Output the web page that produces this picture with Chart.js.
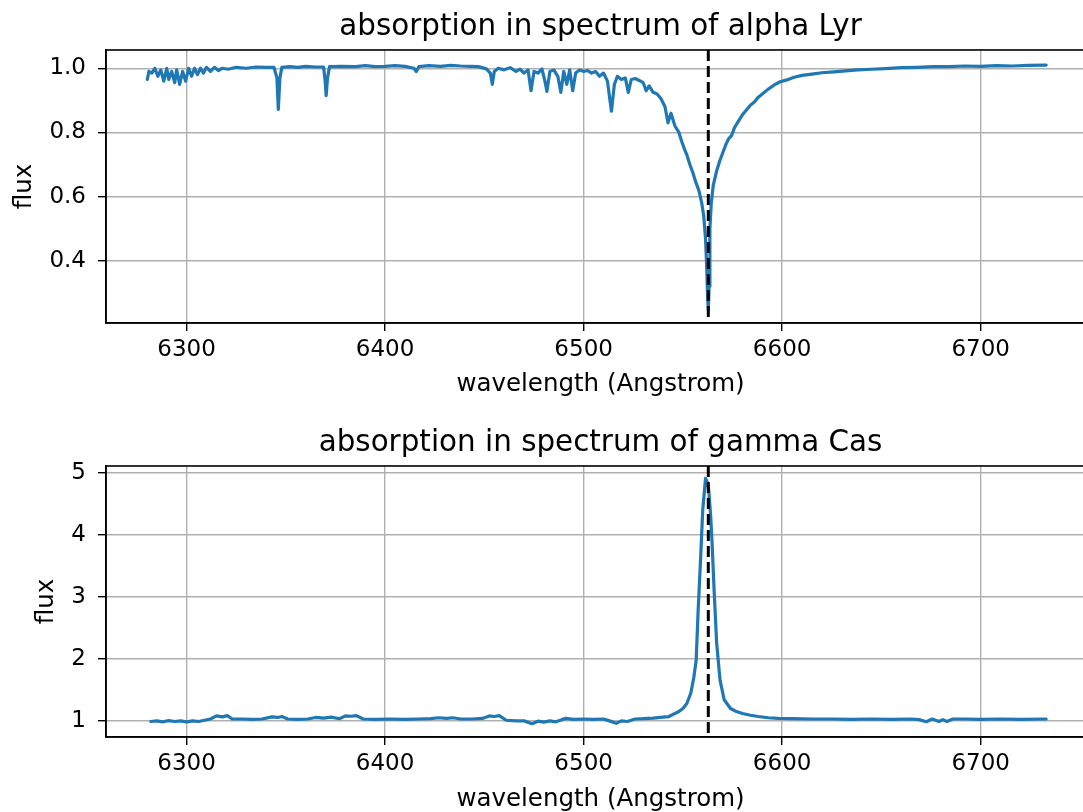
<!DOCTYPE html>
<html>
<head>
<meta charset="utf-8">
<title>H-alpha absorption / emission</title>
<script src="https://cdn.jsdelivr.net/npm/chart.js@4.4.1/dist/chart.umd.min.js"></script>
<style>
  html, body { margin: 0; padding: 0; overflow: hidden; background: #fff; }
  #wrap { position: relative; width: 1083px; height: 812px; overflow: hidden; }
  canvas { position: absolute; left: 0; }
  #lyr { top: 0; }
  #cas { top: 406px; }
</style>
</head>
<body>
<div id="wrap">
  <canvas id="lyr" width="1095" height="406"></canvas>
  <canvas id="cas" width="1095" height="420"></canvas>
</div>
<script>
// tick labels
const xTicks = [6300, 6400, 6500, 6600, 6700];
const lyrTicks = [0.4, 0.6, 0.8, 1.0];
const casTicks = [1, 2, 3, 4, 5];

// rest wavelength of H-alpha (dashed line)
const hAlpha = 6562.8;

// alpha Lyr spectrum
const lyrWave = [
  6280.2, 6281, 6282.5, 6284, 6285.5, 6287, 6288.5, 6290, 6291, 6292.5,
  6294, 6295, 6296.5, 6298, 6299.5, 6301, 6302.5, 6304, 6305.5, 6307,
  6308.5, 6310, 6312, 6314, 6316, 6318, 6321, 6325, 6330, 6335,
  6340, 6344, 6345.5, 6346.2, 6347, 6348, 6352, 6356, 6360, 6365,
  6369, 6369.8, 6370.3, 6371, 6372, 6378, 6385, 6390, 6395, 6400,
  6405, 6410, 6414.5, 6415.7, 6417, 6422, 6428, 6433, 6438, 6443,
  6447, 6451, 6453, 6454, 6455, 6457, 6460, 6463, 6466, 6468,
  6470, 6472, 6473.5, 6475, 6477, 6479, 6480.5, 6481.5, 6483, 6485,
  6487, 6488.5, 6490, 6491.5, 6493, 6494.5, 6496, 6498, 6500, 6502,
  6504, 6506, 6508, 6510, 6512, 6514, 6515.5, 6517, 6519, 6521,
  6522.5, 6524, 6526, 6528, 6530, 6531.5, 6533, 6535, 6537, 6539,
  6541, 6542.5, 6544, 6546, 6548, 6549.5, 6551, 6552, 6553.5, 6555,
  6556.5, 6558, 6559.5, 6560.5, 6561.4, 6562, 6562.5, 6562.8, 6563.2, 6563.6,
  6564.3, 6565.3, 6567, 6568.5, 6570, 6571.5, 6573, 6574.5, 6576, 6578,
  6580, 6582, 6584, 6586, 6588, 6590, 6593, 6596, 6599, 6602,
  6606, 6610, 6615, 6620, 6626, 6632, 6638, 6645, 6652, 6660,
  6668, 6676, 6684, 6692, 6700, 6708, 6716, 6724, 6733
];
const lyrFlux = [
  0.965, 0.99, 0.985, 1.0, 0.975, 0.995, 0.96, 1.0, 0.965, 0.99,
  0.955, 0.995, 0.95, 0.99, 0.96, 1.0, 0.975, 1.0, 0.98, 1.0,
  0.985, 1.003, 0.99, 1.003, 0.993, 1.0, 0.997, 1.003, 1.0, 1.004,
  1.003, 1.003, 0.97, 0.872, 0.97, 1.003, 1.005, 1.003, 1.006, 1.004,
  1.004, 0.96, 0.915, 0.97, 1.005, 1.006, 1.005, 1.008, 1.005, 1.006,
  1.008, 1.006, 1.0, 0.99, 1.005, 1.008, 1.006, 1.009, 1.007, 1.006,
  1.005, 0.998, 0.985, 0.95, 0.99, 1.0, 0.995, 1.002, 0.99, 0.997,
  0.985, 0.995, 0.93, 0.99, 0.985, 0.998, 0.96, 0.928, 0.99, 0.995,
  0.975, 0.925, 0.99, 0.95, 0.995, 0.93, 0.985, 0.995, 0.99, 0.993,
  0.985, 0.99, 0.975, 0.985, 0.96, 0.866, 0.95, 0.975, 0.965, 0.97,
  0.925, 0.965, 0.968, 0.962, 0.955, 0.93, 0.945, 0.925, 0.92, 0.905,
  0.88, 0.83, 0.86, 0.82, 0.8, 0.77, 0.745, 0.73, 0.7, 0.675,
  0.645, 0.62, 0.58, 0.54, 0.47, 0.38, 0.28, 0.245, 0.32, 0.5,
  0.58, 0.635, 0.68, 0.71, 0.735, 0.76, 0.78, 0.79, 0.815, 0.835,
  0.855, 0.87, 0.885, 0.895, 0.91, 0.92, 0.935, 0.948, 0.958, 0.963,
  0.972, 0.978, 0.982, 0.986, 0.989, 0.992, 0.995, 0.997, 0.999, 1.002,
  1.003, 1.005, 1.005, 1.007, 1.006, 1.008, 1.007, 1.009, 1.01
];

// gamma Cas spectrum
const casWave = [
  6282, 6285, 6288, 6291, 6294, 6297, 6300, 6303, 6306, 6309,
  6312, 6315, 6318, 6320.5, 6323, 6328, 6333, 6338, 6343, 6346,
  6348, 6351, 6356, 6361, 6365, 6369, 6373, 6377, 6380, 6383,
  6385.5, 6389, 6395, 6402, 6410, 6417, 6423, 6427, 6431, 6434,
  6438, 6444, 6449, 6452.5, 6455, 6457.5, 6461, 6466, 6470, 6474,
  6477, 6480, 6483, 6486, 6489, 6491, 6495, 6500, 6505, 6510,
  6513, 6516.4, 6519, 6522, 6526, 6530, 6535, 6540, 6543, 6546,
  6548, 6550, 6552, 6554, 6555.5, 6556.7, 6557.7, 6558.9, 6560, 6561.4,
  6562.3, 6563, 6564, 6564.7, 6565.8, 6567, 6568.7, 6570.8, 6574, 6577,
  6580, 6584, 6588, 6593, 6598, 6605, 6615, 6625, 6635, 6645,
  6655, 6665, 6669, 6672.6, 6675.6, 6679, 6681, 6683, 6686, 6692,
  6700, 6710, 6720, 6733
];
const casFlux = [
  0.99, 1.0, 0.985, 1.005, 0.99, 1.0, 0.985, 1.0, 0.99, 1.01,
  1.03, 1.08, 1.065, 1.085, 1.03, 1.03, 1.025, 1.03, 1.065, 1.055,
  1.07, 1.03, 1.025, 1.03, 1.055, 1.045, 1.06, 1.035, 1.08, 1.075,
  1.085, 1.03, 1.025, 1.03, 1.025, 1.03, 1.035, 1.05, 1.04, 1.05,
  1.03, 1.03, 1.04, 1.08, 1.07, 1.085, 1.01, 1.0, 1.0, 0.955,
  0.995, 0.98, 1.0, 0.985, 1.02, 1.04, 1.025, 1.03, 1.025, 1.03,
  1.0, 0.96, 1.0, 0.99, 1.03, 1.035, 1.045, 1.06, 1.07, 1.12,
  1.15, 1.2, 1.28, 1.45, 1.7, 1.98, 2.79, 3.6, 4.4, 4.91,
  4.85, 4.73, 4.3, 3.87, 3.06, 2.26, 1.66, 1.34, 1.2, 1.15,
  1.12, 1.09, 1.07, 1.05, 1.04, 1.035, 1.03, 1.03, 1.025, 1.03,
  1.025, 1.03, 1.02, 0.985, 1.03, 0.99, 1.02, 0.99, 1.03, 1.03,
  1.025, 1.03, 1.025, 1.03
];

const fontFamily = "'DejaVu Sans', sans-serif";
const tickFont = { family: fontFamily, size: 23 };
const labelFont = { family: fontFamily, size: 24.5 };

// draws the full axes box (matplotlib spines)
const framePlugin = {
  id: 'frame',
  afterDatasetsDraw(chart) {
    const a = chart.chartArea;
    const ctx = chart.ctx;
    ctx.save();
    ctx.strokeStyle = '#000';
    ctx.lineWidth = 1.6;
    ctx.strokeRect(a.left, a.top, a.right - a.left, a.bottom - a.top);
    ctx.restore();
  }
};

function makeChart(id, title, wave, flux, yMin, yMax, yTicks, fmt, lay) {
  const points = wave.map((w, i) => ({ x: w, y: flux[i] }));
  return new Chart(document.getElementById(id), {
    type: 'line',
    data: {
      datasets: [
        {
          data: [{ x: hAlpha, y: yMax }, { x: hAlpha, y: yMin }],
          borderColor: '#000',
          borderWidth: 3,
          borderDash: [11, 5],
          pointRadius: 0,
          order: 0
        },
        {
          data: points,
          borderColor: '#1f77b4',
          borderWidth: 3.2,
          borderJoinStyle: 'round',
          borderCapStyle: 'round',
          pointRadius: 0,
          tension: 0,
          order: 1
        }
      ]
    },
    options: {
      responsive: false,
      animation: false,
      devicePixelRatio: 1,
      layout: { padding: 0 },
      plugins: {
        legend: { display: false },
        tooltip: { enabled: false },
        title: {
          display: true,
          text: title,
          fullSize: false,
          color: '#000',
          font: { family: fontFamily, size: 29.4, weight: 'normal', lineHeight: 1.2 },
          padding: { top: lay.titleTop, bottom: lay.titleBottom }
        }
      },
      scales: {
        x: {
          type: 'linear',
          min: 6259.4,
          max: 6757.6,
          afterBuildTicks: s => { s.ticks = xTicks.map(v => ({ value: v })); },
          afterFit: s => { s.height = lay.xHeight; },
          ticks: { font: tickFont, color: '#000', padding: 5.5, maxRotation: 0, callback: v => String(v) },
          grid: { color: '#b0b0b0', lineWidth: 1.4, tickLength: 8, tickColor: '#000', tickWidth: 1.4 },
          border: { display: true, color: '#000', width: 1.6 },
          title: {
            display: true,
            text: 'wavelength (Angstrom)',
            color: '#000',
            font: labelFont,
            padding: { top: 0, bottom: lay.xTitleBottom }
          }
        },
        y: {
          type: 'linear',
          min: yMin,
          max: yMax,
          afterBuildTicks: s => { s.ticks = yTicks.map(v => ({ value: v })); },
          afterFit: s => { s.width = 106; },
          ticks: { font: tickFont, color: '#000', padding: 12, callback: fmt },
          grid: { color: '#b0b0b0', lineWidth: 1.4, tickLength: 8, tickColor: '#000', tickWidth: 1.4 },
          border: { display: true, color: '#000', width: 1.6 },
          title: {
            display: true,
            text: 'flux',
            color: '#000',
            font: labelFont,
            padding: { top: lay.yTitleLeft, bottom: 0 }
          }
        }
      }
    },
    plugins: [framePlugin]
  });
}

makeChart('lyr', 'absorption in spectrum of alpha Lyr', lyrWave, lyrFlux,
  0.206, 1.057, lyrTicks, v => v.toFixed(1),
  { titleTop: 10.2, titleBottom: 4.5, xHeight: 83, xTitleBottom: 6.7, yTitleLeft: 10.3 });

makeChart('cas', 'absorption in spectrum of gamma Cas', casWave, casFlux,
  0.74, 5.11, casTicks, v => String(v),
  { titleTop: 20.2, titleBottom: 4.5, xHeight: 89, xTitleBottom: 11.8, yTitleLeft: 32.3 });
</script>
</body>
</html>
